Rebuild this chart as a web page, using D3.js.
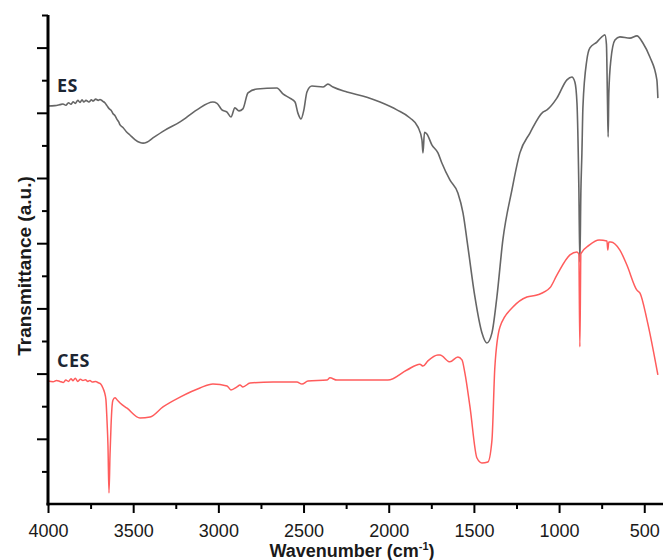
<!DOCTYPE html>
<html>
<head>
<meta charset="utf-8">
<script src="https://cdn.jsdelivr.net/npm/d3@7"></script>
<style>
  body { margin: 0; background: #fff; }
  svg { display: block; }
</style>
</head>
<body>
<div id="chart"></div>
<script>
// ES spectrum (grey) - wavenumber / transmittance (a.u.)
var esWavenumber = [4000, 3960, 3930, 3912, 3895, 3880, 3865, 3853, 3840, 3825, 3812, 3800, 3790, 3777, 3760, 3745, 3736, 3720, 3705, 3695, 3680, 3665, 3654, 3640, 3630, 3619, 3605, 3595, 3585, 3577, 3560, 3540, 3519, 3490, 3460, 3442, 3420, 3384, 3313, 3225, 3126, 3032, 3008, 2979, 2949, 2926, 2903, 2879, 2856, 2826, 2773, 2656, 2621, 2580, 2550, 2533, 2515, 2498, 2480, 2451, 2386, 2357, 2327, 2245, 2128, 2051, 1952, 1875, 1828, 1805, 1799, 1790, 1776, 1746, 1711, 1688, 1641, 1594, 1564, 1535, 1494, 1453, 1424, 1394, 1365, 1330, 1277, 1230, 1171, 1095, 1071, 1013, 954, 925, 907, 895, 884, 878, 872, 866, 860, 837, 819, 778, 749, 731, 722, 716, 712, 708, 696, 672, 643, 584, 543, 508, 467, 426, 420]
var esTransmittance = [12.21, 12.22, 12.25, 12.27, 12.23, 12.31, 12.26, 12.34, 12.29, 12.38, 12.32, 12.40, 12.33, 12.38, 12.33, 12.40, 12.36, 12.42, 12.38, 12.41, 12.36, 12.30, 12.22, 12.12, 12.08, 11.98, 11.90, 11.80, 11.72, 11.63, 11.55, 11.42, 11.32, 11.18, 11.09, 11.07, 11.10, 11.23, 11.47, 11.72, 12.09, 12.33, 12.29, 12.09, 12.02, 11.87, 12.15, 12.06, 12.12, 12.61, 12.73, 12.76, 12.58, 12.45, 12.33, 11.99, 11.81, 12.09, 12.64, 12.82, 12.79, 12.88, 12.79, 12.64, 12.48, 12.33, 12.09, 11.84, 11.56, 11.17, 10.77, 11.40, 11.35, 11.01, 10.77, 10.46, 9.94, 9.54, 8.93, 7.88, 6.35, 5.25, 4.94, 5.25, 6.35, 8.10, 9.63, 10.77, 11.38, 12.02, 12.09, 12.45, 13.01, 13.10, 12.94, 12.30, 9.72, 7.42, 9.60, 10.77, 12.18, 13.62, 13.99, 14.17, 14.33, 14.39, 14.10, 12.40, 11.26, 12.60, 13.62, 14.23, 14.33, 14.29, 14.36, 14.14, 13.71, 13.01, 12.45]

// CES spectrum (red)
var cesWavenumber = [4000, 3970, 3950, 3930, 3910, 3895, 3880, 3865, 3853, 3840, 3825, 3810, 3795, 3780, 3766, 3754, 3740, 3720, 3705, 3695, 3685, 3677, 3668, 3660, 3654, 3648, 3642, 3636, 3630, 3624, 3619, 3607, 3595, 3577, 3536, 3460, 3401, 3325, 3225, 3108, 3032, 2949, 2926, 2891, 2873, 2856, 2814, 2679, 2539, 2509, 2474, 2363, 2345, 2304, 2005, 1893, 1817, 1799, 1770, 1711, 1699, 1641, 1594, 1570, 1553, 1523, 1482, 1453, 1418, 1394, 1377, 1347, 1271, 1189, 1130, 1054, 1013, 936, 895, 884, 878, 872, 823, 765, 719, 714, 708, 696, 643, 602, 543, 525, 484, 420]
var cesTransmittance = [3.77, 3.75, 3.79, 3.76, 3.73, 3.80, 3.76, 3.84, 3.78, 3.86, 3.76, 3.83, 3.79, 3.81, 3.76, 3.79, 3.74, 3.76, 3.72, 3.70, 3.64, 3.55, 3.42, 3.20, 2.60, 1.80, 0.34, 1.50, 2.40, 3.00, 3.18, 3.26, 3.20, 3.10, 2.94, 2.64, 2.67, 2.98, 3.28, 3.56, 3.68, 3.62, 3.50, 3.59, 3.65, 3.59, 3.71, 3.74, 3.74, 3.68, 3.77, 3.80, 3.87, 3.80, 3.80, 4.11, 4.29, 4.23, 4.39, 4.57, 4.57, 4.36, 4.51, 4.42, 4.02, 2.98, 1.41, 1.26, 1.29, 1.96, 4.20, 5.43, 6.04, 6.35, 6.41, 6.63, 7.02, 7.64, 7.73, 7.66, 4.82, 7.68, 7.94, 8.10, 8.07, 7.79, 8.04, 8.04, 7.79, 7.33, 6.56, 6.47, 5.65, 3.96]

var xMajorTicks = [4000, 3500, 3000, 2500, 2000, 1500, 1000, 500]
var xMinorTicks = [3750, 3250, 2750, 2250, 1750, 1250, 750]
var yMajorTicks = [2, 4, 6, 8, 10, 12, 14]
var yMinorTicks = [1, 3, 5, 7, 9, 11, 13, 15]

var seriesLabels = ['ES', 'CES']

var width = 664, height = 560

var svg = d3.select('#chart').append('svg')
    .attr('width', width)
    .attr('height', height)

var xScale = d3.scaleLinear()
    .domain([4000, 390])
    .range([48, 663])

var yScale = d3.scaleLinear()
    .domain([0, 15])
    .range([504, 15])

function toPoints(wn, tr) {
    return wn.map(function(d, i) { return {wn: d, t: tr[i]} })
}

var line = d3.line()
    .x(d => xScale(d.wn))
    .y(d => yScale(d.t))
    .curve(d3.curveMonotoneX)

// spectra
svg.append('path')
    .datum(toPoints(esWavenumber, esTransmittance))
    .attr('d', line)
    .attr('fill', 'none')
    .attr('stroke', '#666')
    .attr('stroke-width', 1.6)
    .attr('stroke-linejoin', 'round')

svg.append('path')
    .datum(toPoints(cesWavenumber, cesTransmittance))
    .attr('d', line)
    .attr('fill', 'none')
    .attr('stroke', '#ff5c5c')
    .attr('stroke-width', 1.5)
    .attr('stroke-linejoin', 'round')

// x axis - major + minor ticks
var xAxisMajor = svg.append('g')
    .attr('transform', 'translate(0,504)')
    .call(d3.axisBottom(xScale).tickValues(xMajorTicks).tickSize(9).tickSizeOuter(0).tickFormat(d3.format('d')))
xAxisMajor.select('.domain').remove()
xAxisMajor.selectAll('.tick line').attr('stroke', '#000').attr('stroke-width', 2)
xAxisMajor.selectAll('.tick text')
    .attr('y', 33)
    .attr('dy', 0)
    .style('font-family', 'Liberation Sans, Arial, sans-serif')
    .style('font-size', '18px')
    .attr('fill', '#1a1a1a')

var xAxisMinor = svg.append('g')
    .attr('transform', 'translate(0,504)')
    .call(d3.axisBottom(xScale).tickValues(xMinorTicks).tickSize(5).tickFormat(''))
xAxisMinor.select('.domain').remove()
xAxisMinor.selectAll('.tick line').attr('stroke', '#000').attr('stroke-width', 2)

// y axis - no labels
var yAxisMajor = svg.append('g')
    .attr('transform', 'translate(48,0)')
    .call(d3.axisLeft(yScale).tickValues(yMajorTicks).tickSize(11).tickFormat(''))
yAxisMajor.select('.domain').remove()
yAxisMajor.selectAll('.tick line').attr('stroke', '#000').attr('stroke-width', 2)

var yAxisMinor = svg.append('g')
    .attr('transform', 'translate(48,0)')
    .call(d3.axisLeft(yScale).tickValues(yMinorTicks).tickSize(6).tickFormat(''))
yAxisMinor.select('.domain').remove()
yAxisMinor.selectAll('.tick line').attr('stroke', '#000').attr('stroke-width', 2)

// axis lines
svg.append('line')
    .attr('x1', 48).attr('x2', 48)
    .attr('y1', yScale(15)).attr('y2', 505.5)
    .attr('stroke', '#000').attr('stroke-width', 3)

svg.append('line')
    .attr('x1', 46.5).attr('x2', xScale(390))
    .attr('y1', 504).attr('y2', 504)
    .attr('stroke', '#000').attr('stroke-width', 2.5)

// axis titles
var xTitle = svg.append('text')
    .attr('x', 352)
    .attr('y', 557)
    .attr('text-anchor', 'middle')
    .style('font-family', 'Liberation Sans, Arial, sans-serif')
    .style('font-weight', 'bold')
    .style('font-size', '18px')
    .attr('fill', '#1a1a1a')
xTitle.append('tspan').text('Wavenumber (cm')
xTitle.append('tspan').text('-1').attr('dy', -7).style('font-size', '11px')
xTitle.append('tspan').text(')').attr('dy', 7)

svg.append('text')
    .attr('transform', 'translate(31,266) rotate(-90)')
    .attr('text-anchor', 'middle')
    .style('font-family', 'Liberation Sans, Arial, sans-serif')
    .style('font-weight', 'bold')
    .style('font-size', '19px')
    .attr('fill', '#1a1a1a')
    .text('Transmittance (a.u.)')

// series labels
svg.selectAll('.series-label')
    .data(seriesLabels)
    .enter()
    .append('text')
    .classed('series-label', true)
    .attr('x', 57)
    .attr('y', (d, i) => i === 0 ? 92 : 367)
    .style('font-family', 'Open Sans, sans-serif')
    .style('font-weight', 'bold')
    .style('font-size', '18px')
    .style('letter-spacing', '0.5px')
    .attr('fill', '#1c2633')
    .text(d => d)
</script>
</body>
</html>
